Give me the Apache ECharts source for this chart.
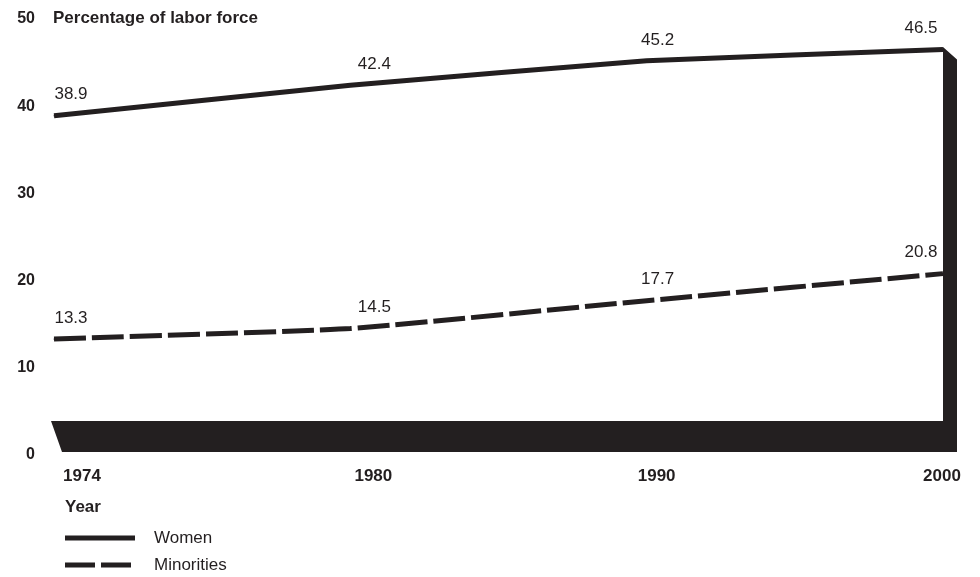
<!DOCTYPE html>
<html>
<head>
<meta charset="utf-8">
<script src="https://cdn.jsdelivr.net/npm/echarts@6/dist/echarts.min.js"></script>
<style>
html, body { margin: 0; padding: 0; background: #fff; }
#main { width: 980px; height: 577px; }
</style>
</head>
<body>
<div id="main"></div>
<script>
// data
var years = ['1974', '1980', '1990', '2000'];
var women = [38.9, 42.4, 45.2, 46.5];
var minorities = [13.3, 14.5, 17.7, 20.8];
var seriesNames = ['Women', 'Minorities'];

var ink = '#231f20';
var font = '"Liberation Sans", Arial, Helvetica, sans-serif';

// small nudges so labels sit where the original put them
var labelShift = [17, 24, 11, -22];
var yearShift = [28, 23, 10, -1];

function withLabels(arr) {
	return arr.map(function (v, i) {
		return { value: v, label: { offset: [labelShift[i], 0] } };
	});
}

var rich = {};
yearShift.forEach(function (s, i) {
	rich['y' + i] = {
		fontFamily: font, fontSize: 17, fontWeight: 'bold', color: ink,
		padding: s >= 0 ? [0, 0, 0, 2 * s] : [0, -2 * s, 0, 0]
	};
});

var lineLabel = { show: true, position: 'top', distance: 12, fontSize: 17, color: ink, fontFamily: font };

var myChart = echarts.init(document.getElementById('main'));
var option = {
	animation: false,
	textStyle: { fontFamily: font },
	title: [{
		text: 'Percentage of labor force',
		left: 48, top: 5,
		textStyle: { fontFamily: font, fontSize: 17, fontWeight: 'bold', color: ink }
	}, {
		text: 'Year',
		left: 60, top: 494,
		textStyle: { fontFamily: font, fontSize: 17, fontWeight: 'bold', color: ink }
	}],
	grid: { left: 54, right: 37, top: 19, bottom: 122 },
	xAxis: {
		type: 'category',
		data: years,
		boundaryGap: false,
		axisLine: { show: false },
		axisTick: { show: false },
		axisLabel: {
			margin: 13,
			formatter: function (v, i) { return '{y' + i + '|' + v + '}'; },
			rich: rich
		}
	},
	yAxis: {
		type: 'value',
		min: 0, max: 50, interval: 10,
		axisLine: { show: false },
		axisTick: { show: false },
		splitLine: { show: false },
		axisLabel: { margin: 19, fontFamily: font, fontSize: 16, fontWeight: 'bold', color: ink }
	},
	series: [{
		name: seriesNames[0],
		type: 'line',
		data: withLabels(women),
		symbol: 'circle',
		symbolSize: 1,
		showSymbol: true,
		smooth: 0.12,
		lineStyle: { color: ink, width: 5 },
		itemStyle: { color: ink },
		label: lineLabel,
		z: 3
	}, {
		name: seriesNames[1],
		type: 'line',
		data: withLabels(minorities),
		symbol: 'circle',
		symbolSize: 1,
		showSymbol: true,
		smooth: 0.12,
		lineStyle: { color: ink, width: 5, type: [32, 6] },
		itemStyle: { color: ink },
		label: lineLabel,
		z: 3
	}]
};
myChart.setOption(option);

// the dark base and right-hand post, placed from the axes
var p0 = myChart.convertToPixel({ gridIndex: 0 }, [0, 0]);
var p3 = myChart.convertToPixel({ gridIndex: 0 }, [years.length - 1, 0]);
var pTop = myChart.convertToPixel({ gridIndex: 0 }, [years.length - 1, women[women.length - 1]]);

// key below the axis title
var keyX = 65, keyY = [538, 565];
var graphics = [{
	type: 'polygon',
	z: 2,
	shape: {
		points: [
			[p0[0] - 3, p0[1] - 34],
			[p3[0], p0[1] - 34],
			[p3[0], pTop[1] - 2.5],
			[p3[0] + 14, pTop[1] + 10],
			[p3[0] + 14, p0[1] - 3],
			[p0[0] + 8, p0[1] - 3]
		]
	},
	style: { fill: ink }
}, {
	type: 'line',
	shape: { x1: keyX, y1: keyY[0], x2: keyX + 70, y2: keyY[0] },
	style: { stroke: ink, lineWidth: 5 }
}, {
	type: 'line',
	shape: { x1: keyX, y1: keyY[1], x2: keyX + 70, y2: keyY[1] },
	style: { stroke: ink, lineWidth: 5, lineDash: [30, 6] }
}];
seriesNames.forEach(function (n, i) {
	graphics.push({
		type: 'text',
		x: keyX + 89, y: keyY[i],
		style: { text: n, fill: ink, font: '17px ' + font, textVerticalAlign: 'middle', verticalAlign: 'middle' }
	});
});
myChart.setOption({ graphic: graphics });
</script>
</body>
</html>
